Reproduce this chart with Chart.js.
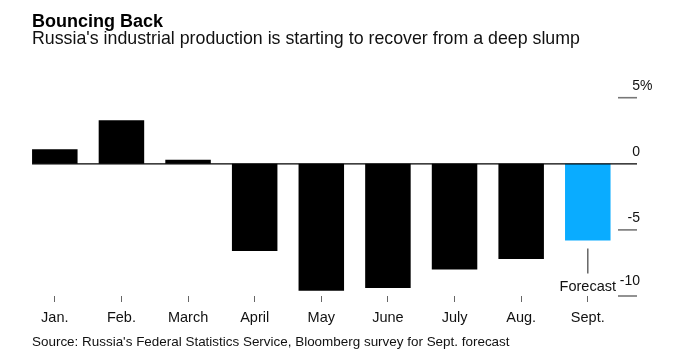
<!DOCTYPE html>
<html>
<head>
<meta charset="utf-8">
<script src="https://cdn.jsdelivr.net/npm/chart.js@4/dist/chart.umd.min.js"></script>
<style>
  html, body { margin: 0; padding: 0; background: #fff; }
  body { width: 673px; height: 355px; position: relative; overflow: hidden; font-family: "Liberation Sans", Arial, sans-serif; }
  #wrap { position: absolute; left: 0; top: 0; width: 673px; height: 355px; }
  .txt { position: absolute; left: 32px; white-space: nowrap; color: #000; }
  #title { top: 11.5px; font-size: 18px; line-height: 18px; font-weight: bold; }
  #subtitle { top: 29.5px; font-size: 17.8px; line-height: 17.8px; color: #111; }
  #source { top: 334.5px; font-size: 13.45px; line-height: 13.45px; color: #111; }
</style>
</head>
<body>
<div id="wrap"><canvas id="c" width="673" height="355"></canvas></div>
<div id="title" class="txt">Bouncing Back</div>
<div id="subtitle" class="txt">Russia's industrial production is starting to recover from a deep slump</div>
<div id="source" class="txt">Source: Russia's Federal Statistics Service, Bloomberg survey for Sept. forecast</div>
<script>
const months = ["Jan.", "Feb.", "March", "April", "May", "June", "July", "Aug.", "Sept."];
const production = [1.1, 3.3, 0.3, -6.6, -9.6, -9.4, -8.0, -7.2, -5.8];
const forecastIndex = 8;
const yTickValues = [5, 0, -5, -10];
const yTickLabels = ["5", "0", "-5", "-10"];
const forecastLabel = "Forecast";

const barColors = months.map((m, i) => i === forecastIndex ? "#0aacff" : "#000000");

const overlay = {
  id: "overlay",
  afterDatasetsDraw(chart) {
    const ctx = chart.ctx;
    const y = chart.scales.y;
    const meta = chart.getDatasetMeta(0);
    const first = meta.data[0];
    const leftX = first.x - first.width / 2;
    const rightX = 637;
    ctx.save();
    yTickValues.forEach((v, i) => {
      const py = y.getPixelForValue(v);
      if (v === 0) {
        ctx.strokeStyle = "#000";
        ctx.lineWidth = 1.3;
        ctx.beginPath();
        ctx.moveTo(leftX, py);
        ctx.lineTo(rightX, py);
        ctx.stroke();
      } else {
        ctx.strokeStyle = "#777";
        ctx.lineWidth = 1.6;
        ctx.beginPath();
        ctx.moveTo(618, py);
        ctx.lineTo(rightX, py);
        ctx.stroke();
      }
      ctx.font = '14px "Liberation Sans", Arial, sans-serif';
      ctx.fillStyle = "#111";
      ctx.textBaseline = "alphabetic";
      const lift = (v === -10) ? 11 : 8;
      ctx.textAlign = "right";
      ctx.fillText(yTickLabels[i], 640, py - lift);
      if (i === 0) {
        ctx.textAlign = "left";
        ctx.fillText("%", 640, py - lift);
      }
    });
    const fb = meta.data[forecastIndex];
    const by = y.getPixelForValue(production[forecastIndex]);
    ctx.strokeStyle = "#666";
    ctx.lineWidth = 1.5;
    ctx.beginPath();
    ctx.moveTo(fb.x, by + 8);
    ctx.lineTo(fb.x, by + 33);
    ctx.stroke();
    ctx.font = '14.5px "Liberation Sans", Arial, sans-serif';
    ctx.fillStyle = "#111";
    ctx.textAlign = "center";
    ctx.textBaseline = "alphabetic";
    ctx.fillText(forecastLabel, fb.x, by + 51);
    ctx.restore();
  }
};

new Chart(document.getElementById("c"), {
  type: "bar",
  data: {
    labels: months,
    datasets: [{
      data: production,
      backgroundColor: barColors,
      borderWidth: 0,
      barPercentage: 0.683,
      categoryPercentage: 1.0
    }]
  },
  options: {
    responsive: false,
    animation: false,
    devicePixelRatio: 1,
    layout: { padding: { left: 21.5, right: 51.9, top: 97.7, bottom: 21.6 } },
    plugins: { legend: { display: false }, tooltip: { enabled: false }, title: { display: false } },
    scales: {
      x: {
        offset: true,
        grid: { display: true, offset: false, drawOnChartArea: false, drawTicks: true, tickLength: 6, tickColor: "#666", tickWidth: 1 },
        border: { display: false },
        ticks: { color: "#111", padding: 7, font: { family: '"Liberation Sans", Arial, sans-serif', size: 14.5 }, maxRotation: 0, autoSkip: false }
      },
      y: {
        display: false,
        min: -10,
        max: 5
      }
    }
  },
  plugins: [overlay]
});
</script>
</body>
</html>
